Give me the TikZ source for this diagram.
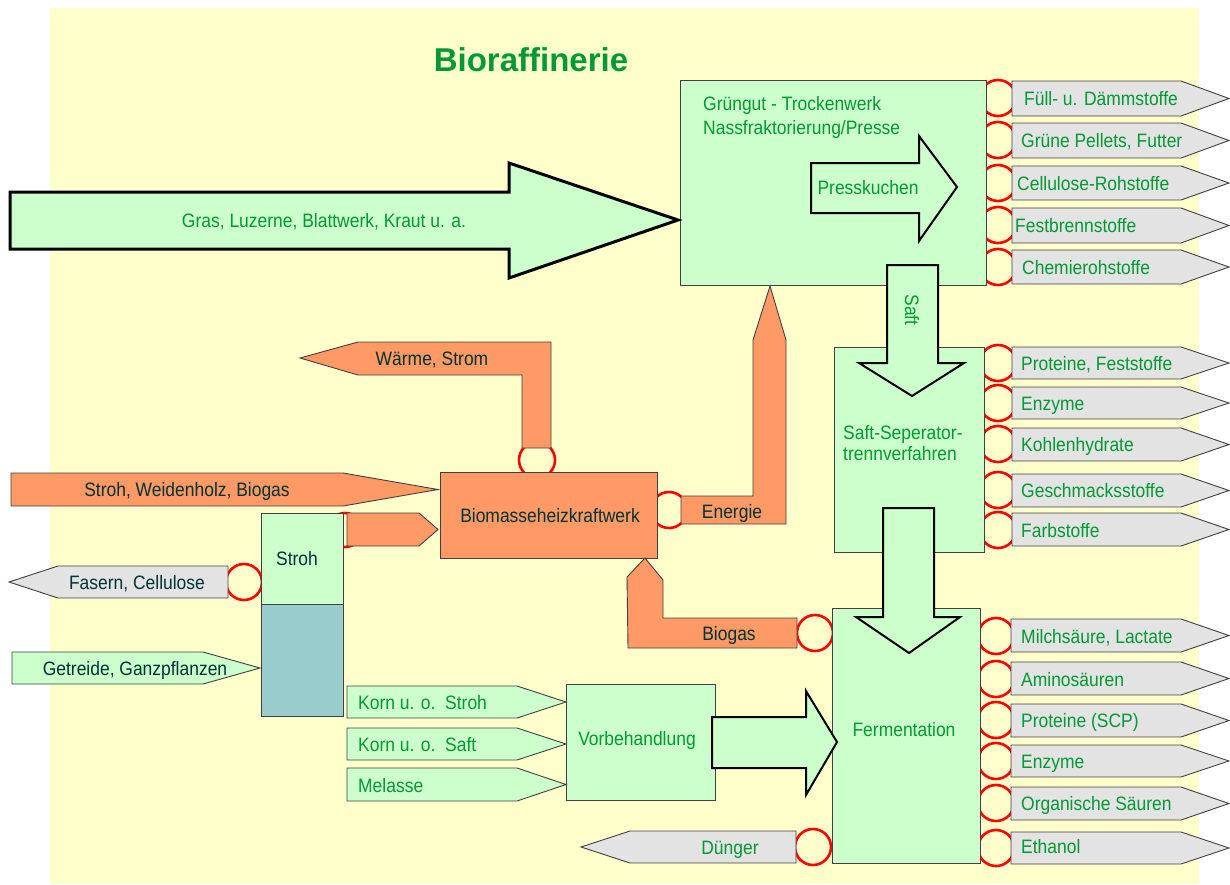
\documentclass[tikz,border=0pt]{standalone}
\usepackage{fontspec}
\setmainfont{Liberation Sans}
\newfontfamily\condf{Liberation Sans}[FakeStretch=0.9]
\definecolor{bg}{HTML}{FFFFCC}
\definecolor{lg}{HTML}{CCFFCC}
\definecolor{org}{HTML}{FF9966}
\definecolor{gry}{HTML}{E3E3E3}
\definecolor{tealbox}{HTML}{99CCCC}
\definecolor{gtxt}{HTML}{009933}
\definecolor{dtxt}{HTML}{003333}
\definecolor{edge}{HTML}{404040}
\tikzset{
 box/.style={draw=edge, line width=0.9pt, inner sep=0pt, outer sep=0pt, anchor=north west},
 tagshape/.style={draw=edge, line width=0.9pt, line join=miter},
 bigarrow/.style={draw=black, line width=2pt, fill=lg, line join=miter},
 ring/.style={draw=red, line width=2.6pt},
 gt/.style={text=gtxt, font=\condf\fontsize{19.4}{22}\selectfont, inner sep=0pt},
 dt/.style={text=dtxt, font=\condf\fontsize{19.4}{22}\selectfont, inner sep=0pt},
}
% right-pointing tag: x1, ytop, body right, ybottom, tip x, style
\newcommand\tagR[6]{\path[tagshape,#6] (#1,#2) -- (#3,#2) -- (#5,{(#2+#4)/2}) -- (#3,#4) -- (#1,#4) -- cycle;}
% left-pointing tag: tip x, ytop, body left, ybottom, right x, style
\newcommand\tagL[6]{\path[tagshape,#6] (#5,#2) -- (#3,#2) -- (#1,{(#2+#4)/2}) -- (#3,#4) -- (#5,#4) -- cycle;}
\begin{document}
\begin{tikzpicture}[x=1pt,y=-1pt]
\useasboundingbox (0,0) rectangle (1230,884);
\fill[bg] (50,8) rectangle (1199,884);

% red rings
\foreach \yc in {98,140,183,225,267,363,403,444,490,530}
  {\draw[ring] (998,\yc) circle (18pt);}
\foreach \yc in {636,679,720,761,803,848}
  {\draw[ring] (996,\yc) circle (18pt);}
\draw[ring] (244,582) circle (18pt);
\draw[ring] (537,460) circle (18pt);
\draw[ring] (669,510) circle (18pt);
\draw[ring] (815,633) circle (18pt);
\draw[ring] (813,847) circle (18pt);
\draw[ring] (345,530) circle (17pt);

% boxes
\node[box, fill=lg, minimum width=306pt, minimum height=205pt] (gruen) at (680,80) {};
\node[box, fill=lg, minimum width=150pt, minimum height=205pt] (sep) at (834,347) {};
\node[box, fill=lg, minimum width=148pt, minimum height=255pt] (ferm) at (832,608) {};
\node[box, fill=lg, minimum width=149pt, minimum height=116pt] (vorb) at (566,684) {};
\node[box, fill=org, minimum width=217pt, minimum height=86pt] (bhkw) at (440,472) {};
\node[box, fill=lg, minimum width=82pt, minimum height=91pt] (stroh) at (261,513) {};
\node[box, fill=tealbox, minimum width=82pt, minimum height=112pt] (strohb) at (261,604) {};

% gray output tags
\foreach \ya/\yb in {81/116,123/158,166/200,208/243,250/284,347/379,387/419,428/461,474/507,513/546}
  {\tagR{1012}{\ya}{1181}{\yb}{1229}{fill=gry}}
\foreach \ya/\yb in {619/652,662/695,704/737,745/777,787/820,832/864}
  {\tagR{1011}{\ya}{1181}{\yb}{1229}{fill=gry}}
\tagL{9}{566}{58}{598}{228}{fill=gry}
\tagL{581}{831}{630}{863}{796}{fill=gry}

% orange shapes
\path[tagshape, fill=org] (300,358) -- (358,342) -- (551,342) -- (551,448) -- (522,448) -- (522,375) -- (358,375) -- cycle;
\path[tagshape, fill=org] (681,496) -- (753,496) -- (753,340) -- (770,286) -- (786,340) -- (786,524) -- (681,524) -- cycle;
\path[tagshape, fill=org] (797,618) -- (663,618) -- (663,580) -- (645,558) -- (627,577) -- (628,648) -- (797,648) -- cycle;
\tagR{11}{473}{343}{506}{438}{fill=org}
\tagR{347}{513}{419}{546}{438}{fill=org}

% green input tags
\tagR{12}{652}{203}{684}{260}{fill=lg}
\tagR{347}{686}{517}{718}{566}{fill=lg}
\tagR{347}{728}{517}{760}{566}{fill=lg}
\tagR{347}{768}{517}{801}{566}{fill=lg}

% big block arrows
\path[bigarrow, line width=3pt] (10,192) -- (509,192) -- (509,163) -- (678,220) -- (509,278) -- (509,249) -- (10,249) -- cycle;
\path[bigarrow] (811,163) -- (919,163) -- (919,136) -- (957,187) -- (919,241) -- (919,213) -- (811,213) -- cycle;
\path[bigarrow] (887,265) -- (938,265) -- (938,363) -- (964,363) -- (912,396) -- (859,363) -- (887,363) -- cycle;
\path[bigarrow] (883,508) -- (934,508) -- (934,617) -- (960,617) -- (909,653) -- (856,617) -- (883,617) -- cycle;
\path[bigarrow] (712,717) -- (806,717) -- (806,691) -- (837,742) -- (806,795) -- (806,768) -- (712,768) -- cycle;

% title
\node[text=gtxt, font=\fontsize{33}{38}\selectfont\bfseries, inner sep=0pt] (title) at (531,60) {Bioraffinerie};

% texts
\node[gt, anchor=base west] (tg1) at (703,110) {Grüngut - Trockenwerk};
\node[gt, anchor=base west] (tg2) at (703,134) {Nassfraktorierung/Presse};
\node[gt, anchor=base] (tpress) at (868,194) {Presskuchen};
\node[gt, anchor=base, rotate=-90] (tsaft) at (905,310) {Saft};
\node[gt, anchor=base west] (ts1) at (843,439) {Saft-Seperator-};
\node[gt, anchor=base west] (ts2) at (843,460) {trennverfahren};
\node[gt, anchor=base] (tferm) at (904,736) {Fermentation};
\node[gt, anchor=base] (tvorb) at (637,745) {Vorbehandlung};
\node[gt, anchor=base] (tgras) at (324,227) {Gras, Luzerne, Blattwerk, Kraut u. a.};

\node[gt, anchor=base west] (o1) at (1024,105) {Füll- u. Dämmstoffe};
\node[gt, anchor=base west] (o2) at (1021,147) {Grüne Pellets, Futter};
\node[gt, anchor=base west] (o3) at (1017,190) {Cellulose-Rohstoffe};
\node[gt, anchor=base west] (o4) at (1015,232) {Festbrennstoffe};
\node[gt, anchor=base west] (o5) at (1022,274) {Chemierohstoffe};

\node[gt, anchor=base west] (s1) at (1021,370) {Proteine, Feststoffe};
\node[gt, anchor=base west] (s2) at (1021,410) {Enzyme};
\node[gt, anchor=base west] (s3) at (1021,451) {Kohlenhydrate};
\node[gt, anchor=base west] (s4) at (1021,497) {Geschmacksstoffe};
\node[gt, anchor=base west] (s5) at (1021,537) {Farbstoffe};

\node[gt, anchor=base west] (f1) at (1021,643) {Milchsäure, Lactate};
\node[gt, anchor=base west] (f2) at (1021,686) {Aminosäuren};
\node[gt, anchor=base west] (f3) at (1021,727) {Proteine (SCP)};
\node[gt, anchor=base west] (f4) at (1021,768) {Enzyme};
\node[gt, anchor=base west] (f5) at (1021,810) {Organische Säuren};
\node[gt, anchor=base west] (f6) at (1021,853) {Ethanol};

\node[gt, anchor=base] (tdung) at (730,854) {Dünger};
\node[gt, anchor=base west] (k1) at (358,709) {Korn u. o.\ \ Stroh};
\node[gt, anchor=base west] (k2) at (358,751) {Korn u. o.\ \ Saft};
\node[gt, anchor=base west] (k3) at (358,792) {Melasse};

\node[dt, anchor=base] (twaerme) at (432,365) {Wärme, Strom};
\node[dt, anchor=base] (tbhkw) at (550,522) {Biomasseheizkraftwerk};
\node[dt, anchor=base] (tenerg) at (732,518) {Energie};
\node[dt, anchor=base] (tbiog) at (729,640) {Biogas};
\node[dt, anchor=base] (tswb) at (187,496) {Stroh, Weidenholz, Biogas};
\node[dt, anchor=base] (tstroh) at (297,565) {Stroh};
\node[dt, anchor=base] (tfas) at (137,589) {Fasern, Cellulose};
\node[dt, anchor=base] (tget) at (135,675) {Getreide, Ganzpflanzen};
\end{tikzpicture}
\end{document}
